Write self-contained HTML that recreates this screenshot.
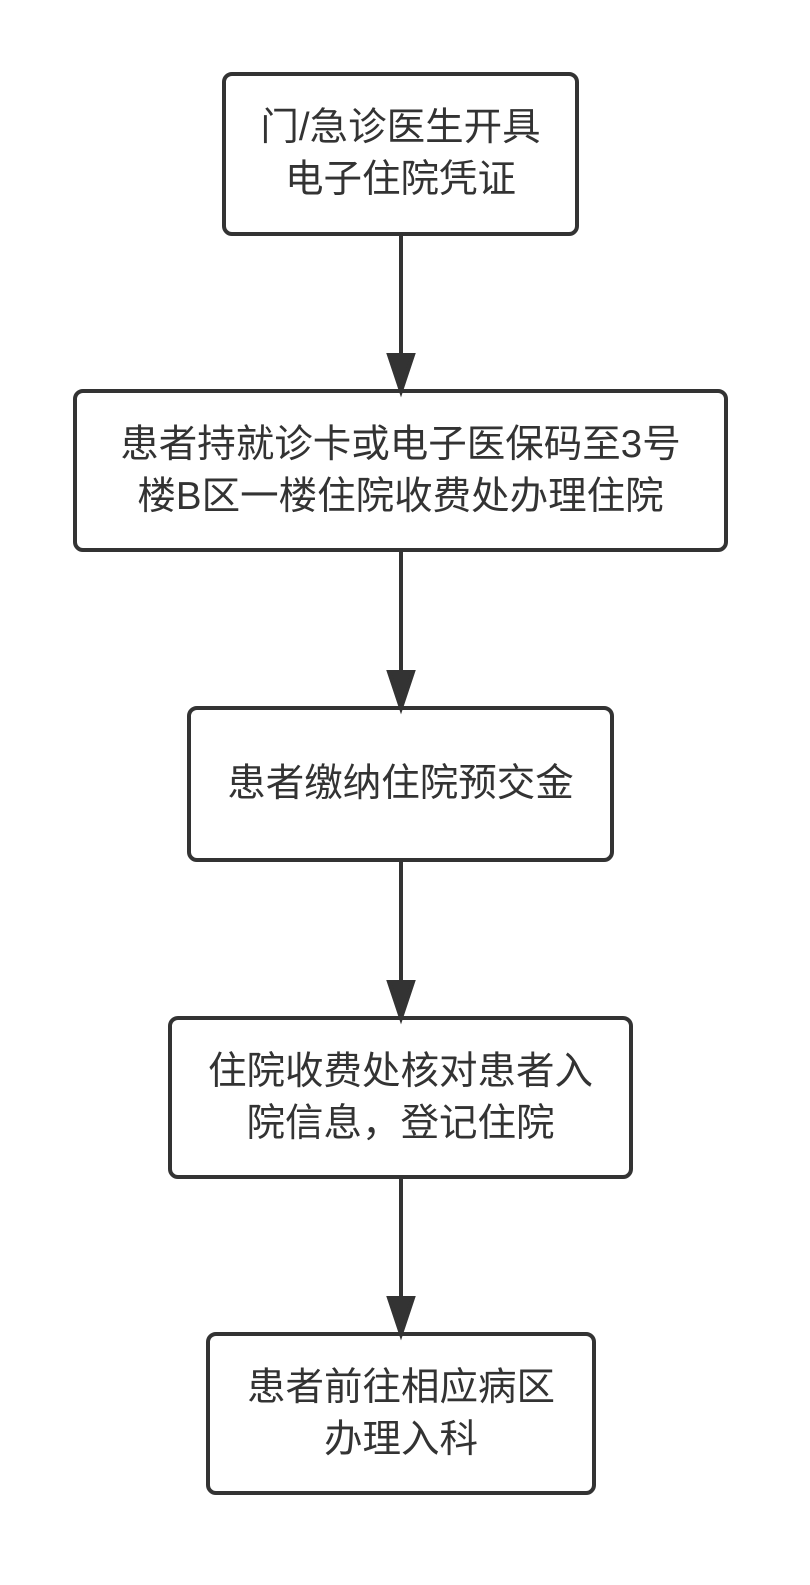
<!DOCTYPE html>
<html><head><meta charset="utf-8"><style>
html,body{margin:0;padding:0;background:#fff;}
body{width:810px;height:1585px;position:relative;overflow:hidden;font-family:"Liberation Sans","Noto Sans CJK SC",sans-serif;}
.b{position:absolute;box-sizing:border-box;border:4px solid #333;border-radius:10px;display:flex;align-items:center;justify-content:center;text-align:center;color:#333;font-size:38.5px;line-height:52px;}
</style></head><body>
<svg width="810" height="1585" style="position:absolute;left:0;top:0">
<g stroke="#333" stroke-width="4" fill="#333">
<line x1="401" y1="235" x2="401" y2="360"/><polygon points="389,355 413,355 401,391"/>
<line x1="401" y1="551" x2="401" y2="677"/><polygon points="389,672 413,672 401,708"/>
<line x1="401" y1="861" x2="401" y2="987"/><polygon points="389,982 413,982 401,1018"/>
<line x1="401" y1="1178" x2="401" y2="1303"/><polygon points="389,1298 413,1298 401,1334"/>
</g></svg>
<div class="b" style="left:222px;top:72px;width:357px;height:164px">门/急诊医生开具<br>电子住院凭证</div>
<div class="b" style="left:73px;top:389px;width:655px;height:163px">患者持就诊卡或电子医保码至3号<br>楼B区一楼住院收费处办理住院</div>
<div class="b" style="left:187px;top:706px;width:427px;height:156px">患者缴纳住院预交金</div>
<div class="b" style="left:168px;top:1016px;width:465px;height:163px">住院收费处核对患者入<br>院信息，登记住院</div>
<div class="b" style="left:206px;top:1332px;width:390px;height:163px">患者前往相应病区<br>办理入科</div>
</body></html>
